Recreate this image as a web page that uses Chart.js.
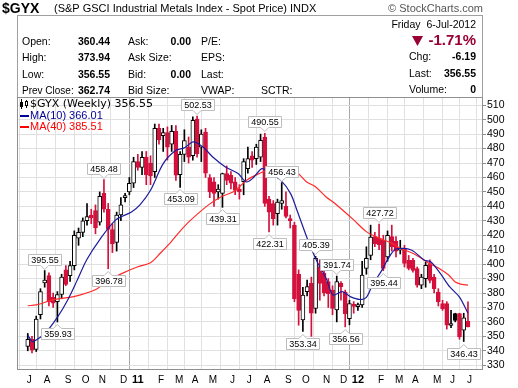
<!DOCTYPE html>
<html>
<head>
<meta charset="utf-8">
<script src="https://cdn.jsdelivr.net/npm/chart.js@4.4.0/dist/chart.umd.min.js"></script>
<style>
  html, body { margin: 0; padding: 0; background: #fff; }
  canvas { display: block; }
</style>
</head>
<body>
<canvas id="gyxChart" width="518" height="388"></canvas>
<script>
// $GYX weekly candles, week 0 = 5-Jul-2010 ... week 104 = 2-Jul-2012
var opens = [343, 348, 341, 365, 387, 392, 377, 374, 379, 396,
  392, 399, 418, 422, 430, 434, 437, 429, 449, 438,
  424, 415, 434, 446, 450, 456, 471, 467, 474, 470,
  464, 494, 489, 491, 483, 492, 462, 476, 481, 475,
  500.5, 481, 491.5, 460, 457, 450, 449, 462.7, 461.5, 457,
  452, 457, 466, 475, 473, 474, 488, 445, 442, 435,
  442, 440, 431.5, 427, 393, 361.3, 381, 386.7, 369.4, 398.3,
  393.6, 388, 382, 368.3, 386.7, 380.7, 362.3, 372.2, 370.5, 371.7,
  397, 406, 419, 418, 416.5, 405, 419, 416, 409.6, 410.7,
  402.7, 402.7, 396.9, 385.4, 390, 400.3, 391, 380.7, 372.7, 372.7,
  357.5, 365.7, 365.7, 354.2, 360.44];
var highs = [352, 350, 364, 383, 395.55, 394, 380, 381, 393, 399,
  402, 423, 425, 432, 442, 438, 441, 450, 458.48, 442,
  428, 436, 446, 449, 460, 474, 476, 478, 478, 475,
  497, 497, 494, 495, 496, 496, 478, 493, 488, 502,
  502.53, 493, 494, 462, 460, 455, 463, 468, 464, 460,
  455, 473, 481, 478, 483, 490, 490.55, 447, 444, 445,
  456.43, 450, 434, 429, 396, 384, 389, 391, 405.39, 403,
  396, 390, 385, 391.74, 388, 382, 375, 374, 373, 402,
  412, 427, 422, 427.72, 420, 423, 427, 419, 416.5, 413,
  406, 404, 398, 393, 401.5, 403, 393, 383, 375, 374,
  368, 366, 366, 366, 373.94];
var lows = [340, 338.5, 339.5, 362, 384, 371, 370, 359.93, 376, 385,
  388, 396, 413, 419, 427, 428, 421, 427, 436, 396.78,
  408, 409, 430, 443, 448, 453, 465, 462, 455, 455,
  460, 483, 478, 472, 478, 458, 453.09, 471, 470, 472,
  474, 471, 460, 446, 440, 445, 439.31, 455, 452, 448,
  445, 448, 463, 467, 469, 471, 440, 422.31, 427, 427,
  438, 432, 425, 374, 357.7, 353.34, 378, 350, 366, 375,
  378, 370, 365, 360, 375, 356.56, 358, 366, 368, 370,
  393, 403, 412, 410, 395.44, 402, 409, 405, 407, 398,
  396, 394.5, 384, 383, 384, 387, 380, 371, 368, 355,
  356, 360, 348, 346.43, 356.55];
var closes = [348, 340.5, 362, 381, 389, 374, 373, 379, 391, 386,
  399, 420, 422, 430, 433, 432, 425, 447, 438, 424,
  414, 434, 441, 447.5, 456, 471, 467, 474, 462, 461,
  494, 486, 491, 481, 492, 461.5, 476, 485.5, 474, 499.5,
  476.5, 490, 463, 450, 449, 452, 462.7, 458, 456, 451,
  450, 471, 473, 472, 481, 485.7, 442, 436, 431.5, 443,
  444, 433, 430, 376, 368, 378.6, 384.4, 366, 404, 386.7,
  380, 379.5, 369.4, 387.9, 384.4, 365.7, 372.7, 370.8, 372, 392.5,
  404, 418.8, 414.2, 413.5, 397, 420, 412, 409, 410.7, 400.4,
  397, 395.7, 385.4, 391, 399.2, 388.8, 383, 373.8, 369.2, 357.7,
  358.5, 361.1, 349.6, 362.74, 356.55];

// moving averages (week index, value)
var ma10Week = [0, 1.1, 2.3, 4.1, 7.1, 9.4, 11.7, 13.9, 16.9, 20.8, 24.5, 26.5, 29, 32, 35, 37, 39.1, 41.4,
  43.7, 46.7, 49.7, 51.6, 53, 55.3, 56.8, 59.8, 62.1, 63.6, 65.9, 68.2, 70.5, 72.1, 74.3, 76.2,
  78.5, 80, 81.5, 83.5, 85.4, 87, 90.6, 93.7, 95.2, 97.5, 99.7, 102, 104];
var ma10Val = [350.9, 346.3, 348, 352, 363.6, 375, 389, 402.9, 416.5, 430.6, 436.1, 441, 451.1, 469.6, 478.8, 480.5, 484.6, 481.1,
  474.2, 467.3, 462.7, 456.9, 459, 466.1, 463.8, 458, 448.8, 437.3, 418.8, 402.7, 390, 378.6, 381, 377.5,
  375.5, 377, 386, 395, 405, 410.5, 409.8, 402.7, 401.6, 393.4, 384.2, 377.2, 366.01];
var ma40Week = [0, 2, 6.4, 10.9, 16.2, 18.5, 22.3, 26, 29, 31.3, 33.2, 35.9, 38.1, 42.7, 45.7, 48.7, 51.8,
  54.5, 58.1, 61.3, 63.4, 65.9, 67.9, 70.5, 72.5, 77, 80, 83, 86, 88, 91.2, 95, 97.3, 99.5, 101, 102.5, 104];
var ma40Val = [371.2, 371.8, 375.6, 377.5, 382.6, 387.9, 393.6, 398.2, 401, 407.5, 413.3, 422.5, 429.4, 441, 446.7, 450.2, 458.3,
  462.5, 466.4, 465, 464, 456.9, 453.7, 446.5, 442.1, 430.6, 422.5, 418, 414.5, 411, 407.2, 400.3, 396.8, 392.3, 387.6, 386, 385.51];

// annotated highs and lows
var peakWeek = [4, 18, 40, 56, 60, 68, 73, 83];
var peakVal = [395.55, 458.48, 502.53, 490.55, 456.43, 405.39, 391.74, 427.72];
var troughWeek = [7, 19, 36, 46, 57, 65, 75, 84, 103];
var troughVal = [359.93, 396.78, 453.09, 439.31, 422.31, 353.34, 356.56, 395.44, 346.43];

// axis
var monthWeek = [0, 4, 9, 13, 17, 22, 26, 31, 35, 39, 43, 48, 52, 56, 61, 65, 70, 74, 78, 83, 87, 91, 96, 100, 104];
var monthLabel = ['J', 'A', 'S', 'O', 'N', 'D', '11', 'F', 'M', 'A', 'M', 'J', 'J', 'A', 'S', 'O', 'N', 'D', '12', 'F', 'M', 'A', 'M', 'J', 'J'];
var yTicks = [330, 340, 350, 360, 370, 380, 390, 400, 410, 420, 430, 440, 450, 460, 470, 480, 490, 500, 510];

var RED = '#d4103c';
var SANS = '"Liberation Sans", Arial, sans-serif';

var edgeColors = closes.map(function (c, i) {
  var up = i === 0 ? c >= opens[i] : c >= closes[i - 1];
  return up ? '#000000' : RED;
});
var bodyFills = closes.map(function (c, i) {
  return c < opens[i] ? edgeColors[i] : '#ffffff';
});

function isYear(lbl) { return lbl === '11' || lbl === '12'; }

function tag(c, text, px, py, above) {
  c.font = '9px ' + SANS;
  var w = Math.round(c.measureText(text).width) + 5, h = 11;
  var x0 = Math.round(px - w / 2) + 0.5;
  var y0;
  c.beginPath();
  if (above) {
    y0 = Math.round(py - 6 - h) + 0.5;
    c.moveTo(x0, y0); c.lineTo(x0 + w, y0); c.lineTo(x0 + w, y0 + h);
    c.lineTo(px + 4, y0 + h); c.lineTo(px, y0 + h + 4); c.lineTo(px - 4, y0 + h);
    c.lineTo(x0, y0 + h);
  } else {
    y0 = Math.round(py + 6) + 0.5;
    c.moveTo(x0, y0); c.lineTo(px - 4, y0); c.lineTo(px, y0 - 4); c.lineTo(px + 4, y0);
    c.lineTo(x0 + w, y0); c.lineTo(x0 + w, y0 + h); c.lineTo(x0, y0 + h);
  }
  c.closePath();
  c.fillStyle = '#ffffff'; c.fill();
  c.strokeStyle = '#bdbdbd'; c.lineWidth = 1; c.stroke();
  c.fillStyle = '#000';
  c.textAlign = 'center'; c.textBaseline = 'middle';
  c.fillText(text, x0 + w / 2, y0 + h / 2 + 0.5);
}

function txt(c, s, x, y, font, color, align) {
  c.font = font; c.fillStyle = color || '#000';
  c.textAlign = align || 'left'; c.textBaseline = 'middle';
  c.fillText(s, x, y);
}

var decorPlugin = {
  id: 'decor',
  beforeDraw: function (chart) {
    var c = chart.ctx;
    c.save();
    c.fillStyle = '#fff';
    c.fillRect(0, 0, chart.width, chart.height);

    // title line
    txt(c, '$GYX', 2, 9, 'bold 14px ' + SANS);
    txt(c, '(S&P GSCI Industrial Metals Index - Spot Price) INDX', 54, 9, '11px ' + SANS);
    txt(c, '\u00a9 StockCharts.com', 483, 9, '11px ' + SANS, '#555', 'right');

    // quote box
    c.strokeStyle = '#a0a0a0'; c.lineWidth = 1;
    c.strokeRect(17.5, 15.5, 465, 82);

    var lf = '10.5px ' + SANS, bf = 'bold 10.5px ' + SANS;
    var rows = [42, 58, 75, 91];
    txt(c, 'Open:', 22, rows[0], lf); txt(c, '360.44', 110, rows[0], bf, '#000', 'right');
    txt(c, 'High:', 22, rows[1], lf); txt(c, '373.94', 110, rows[1], bf, '#000', 'right');
    txt(c, 'Low:', 22, rows[2], lf); txt(c, '356.55', 110, rows[2], bf, '#000', 'right');
    txt(c, 'Prev Close:', 22, rows[3], '10px ' + SANS); txt(c, '362.74', 110, rows[3], bf, '#000', 'right');
    txt(c, 'Ask:', 128, rows[0], lf); txt(c, '0.00', 191, rows[0], bf, '#000', 'right');
    txt(c, 'Ask Size:', 128, rows[1], lf);
    txt(c, 'Bid:', 128, rows[2], lf); txt(c, '0.00', 191, rows[2], bf, '#000', 'right');
    txt(c, 'Bid Size:', 128, rows[3], lf);
    txt(c, 'P/E:', 201, rows[0], lf);
    txt(c, 'EPS:', 201, rows[1], lf);
    txt(c, 'Last:', 201, rows[2], lf);
    txt(c, 'VWAP:', 201, rows[3], lf);
    txt(c, 'SCTR:', 261, rows[3], lf);

    txt(c, 'Friday  6-Jul-2012', 476, 25, lf, '#000', 'right');
    c.fillStyle = '#990033';
    c.beginPath(); c.moveTo(412, 36); c.lineTo(423, 36); c.lineTo(417.5, 46); c.closePath(); c.fill();
    txt(c, '-1.71%', 476, 41, 'bold 15px ' + SANS, '#990033', 'right');
    txt(c, 'Chg:', 409, 57, lf); txt(c, '-6.19', 476, 57, bf, '#000', 'right');
    txt(c, 'Last:', 409, 74, lf); txt(c, '356.55', 476, 74, bf, '#000', 'right');
    txt(c, 'Volume:', 409, 90, lf); txt(c, '0', 476, 90, bf, '#000', 'right');
    c.restore();
  },
  afterDatasetsDraw: function (chart) {
    var c = chart.ctx, a = chart.chartArea;
    var xs = chart.scales.x, ys = chart.scales.y;
    c.save();
    c.strokeStyle = '#909090'; c.lineWidth = 1;
    c.strokeRect(a.left + 0.5, a.top + 0.5, a.right - a.left - 1, a.bottom - a.top - 1);

    // legend
    c.strokeStyle = '#000';
    c.beginPath(); c.moveTo(21.5, 99); c.lineTo(21.5, 109); c.moveTo(26.5, 100); c.lineTo(26.5, 108); c.stroke();
    c.fillStyle = '#000'; c.fillRect(20, 102, 3, 5);
    c.fillStyle = '#fff'; c.fillRect(25, 101, 3, 5); c.strokeRect(25.5, 101.5, 2, 4);
    txt(c, '$GYX (Weekly) 356.55', 30, 104, '11px "DejaVu Sans", sans-serif');
    c.fillStyle = '#000099'; c.fillRect(20, 115, 9, 2);
    txt(c, 'MA(10) 366.01', 30, 116, '11px ' + SANS, '#000099');
    c.fillStyle = '#ff0000'; c.fillRect(20, 126, 9, 2);
    txt(c, 'MA(40) 385.51', 30, 127, '11px ' + SANS, '#ff0000');

    peakWeek.forEach(function (w, k) {
      tag(c, peakVal[k].toFixed(2), xs.getPixelForValue(w), ys.getPixelForValue(peakVal[k]), true);
    });
    troughWeek.forEach(function (w, k) {
      tag(c, troughVal[k].toFixed(2), xs.getPixelForValue(w), ys.getPixelForValue(troughVal[k]), false);
    });
    c.restore();
  },
  afterDraw: function (chart) {
    var c = chart.ctx, xs = chart.scales.x;
    c.save();
    monthWeek.forEach(function (w, k) {
      var px = xs.getPixelForValue(w), lbl = monthLabel[k];
      if (isYear(lbl)) txt(c, lbl, px, 380, 'bold 11px ' + SANS, '#000', 'center');
      else txt(c, lbl, px - 1, 380, '10px ' + SANS, '#000', 'left');
    });
    c.restore();
  }
};

new Chart(document.getElementById('gyxChart'), {
  data: {
    datasets: [{
      type: 'bar',
      label: 'range',
      data: highs.map(function (h, i) { return { x: i, y: [lows[i], h] }; }),
      backgroundColor: edgeColors,
      barThickness: 1,
      grouped: false,
      order: 3
    }, {
      type: 'bar',
      label: 'body',
      data: opens.map(function (o, i) { return { x: i, y: [o, closes[i]] }; }),
      backgroundColor: bodyFills,
      borderColor: edgeColors,
      borderWidth: 1,
      borderSkipped: false,
      barThickness: 4,
      minBarLength: 2,
      grouped: false,
      order: 2
    }, {
      type: 'line',
      label: 'MA(40)',
      data: ma40Week.map(function (w, k) { return { x: w, y: ma40Val[k] }; }),
      borderColor: '#ff2a2a',
      borderWidth: 1.2,
      pointRadius: 0,
      tension: 0.3,
      order: 1
    }, {
      type: 'line',
      label: 'MA(10)',
      data: ma10Week.map(function (w, k) { return { x: w, y: ma10Val[k] }; }),
      borderColor: '#1c1c9c',
      borderWidth: 1.2,
      pointRadius: 0,
      tension: 0.3,
      order: 0
    }]
  },
  options: {
    responsive: false,
    animation: false,
    events: [],
    layout: { padding: { left: 17, top: 97, right: 0, bottom: 0 } },
    plugins: { legend: { display: false }, tooltip: { enabled: false } },
    scales: {
      x: {
        type: 'linear',
        min: -0.34,
        max: 105.35,
        afterBuildTicks: function (s) { s.ticks = monthWeek.map(function (v) { return { value: v }; }); },
        afterFit: function (s) { s.height = 18; },
        ticks: { display: false, autoSkip: false },
        grid: {
          drawTicks: false,
          color: function (ctx) {
            return ctx.tick && (ctx.tick.value === 26 || ctx.tick.value === 78) ? '#a8a8a8' : '#e0e0e0';
          }
        },
        border: { display: false }
      },
      y: {
        position: 'right',
        min: 326.7,
        max: 515.7,
        afterBuildTicks: function (s) { s.ticks = yTicks.map(function (v) { return { value: v }; }); },
        afterFit: function (s) { s.width = 35; },
        ticks: { color: '#000', padding: 1, autoSkip: false, font: { family: SANS, size: 10.5 } },
        grid: { color: '#e0e0e0', tickLength: 3, tickColor: '#909090' },
        border: { display: false }
      }
    }
  },
  plugins: [decorPlugin]
});
</script>
</body>
</html>
